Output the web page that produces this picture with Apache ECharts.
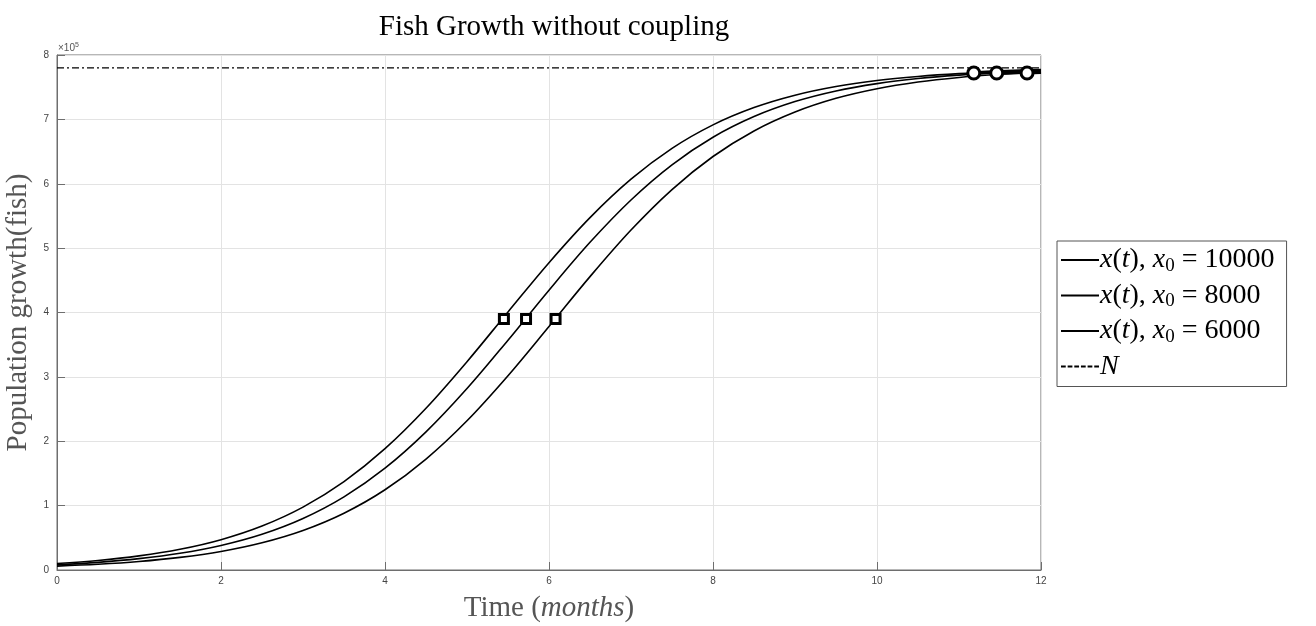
<!DOCTYPE html>
<html>
<head>
<meta charset="utf-8">
<script src="https://cdn.jsdelivr.net/npm/echarts@6/dist/echarts.min.js"></script>
<style>html,body{margin:0;padding:0;background:#fff}#c{width:1316px;height:626px}</style>
</head>
<body>
<div id="c"></div>
<script>
// Time samples (months)
const times = [0,0.5,1,1.5,2,2.5,3,3.5,4,4.5,5,5.5,6,6.5,7,7.5,8,8.5,9,9.5,10,10.5,11,11.5,12];
// x(t), x0 = 10000
const pop10000 = [10000,14800,21900,32200,47100,68300,97700,137300,188500,251300,323600,400900,477400,547400,607100,655000,691500,718400,737600,751100,760400,766700,771100,774000,776000];
// x(t), x0 = 8000
const pop8000 = [8000,11900,17600,25900,38100,55500,80000,113600,158100,214500,281800,357000,434700,509000,574800,629400,672200,704300,727600,744100,755500,763400,768800,772500,774900];
// x(t), x0 = 6000
const pop6000 = [6000,8900,13200,19600,28800,42300,61400,88200,124600,172400,231900,301900,378300,455700,528100,591000,642300,682000,711400,732700,747600,758000,765100,770000,773300];
// carrying capacity N
const capacityN = 780000;
// half-capacity markers (squares)
const halfT = [5.45, 5.72, 6.08];
const halfV = [390000, 390000, 390000];
// near-saturation markers (circles)
const satT = [11.18, 11.46, 11.83];
const satV = [772000, 772000, 772000];
// thick tail segments after the circles
const tailA = [[11.18,772000],[11.5,774000],[12,776000]];
const tailB = [[11.46,772200],[11.5,772500],[12,774900]];
const tailC = [[11.83,772400],[12,773300]];
const yTickStep = 100000;

const pairs = (arr) => times.map((t, i) => [t, arr[i]]);
const serif = '"Liberation Serif", "DejaVu Serif", serif';
const legRich = {
  i: {fontFamily: serif, fontStyle: 'italic', fontSize: 28, color: '#000'},
  n: {fontFamily: serif, fontSize: 28, color: '#000'},
  s: {fontFamily: serif, fontSize: 19, color: '#000', verticalAlign: 'bottom', padding: [12,0,0,0]}
};
const lineStyleBase = {color: '#000', width: 1.6};
const solidIcon = 'path://M0,0H40V2H0Z';
const dashIcon = 'path://M0,0H5V2H0Z M7,0H12V2H7Z M14,0H19V2H14Z M21,0H26V2H21Z M28,0H33V2H28Z M35,0H40V2H35Z';

const chart = echarts.init(document.getElementById('c'), null, {renderer: 'canvas'});
chart.setOption({
  animation: false,
  backgroundColor: '#fff',
  title: {
    text: 'Fish Growth without coupling',
    left: 549, top: 8, textAlign: 'center',
    textStyle: {fontFamily: serif, fontWeight: 'normal', fontSize: 29, color: '#000'}
  },
  grid: {left: 57, right: 275, top: 55, bottom: 56, show: true, borderColor: '#6e6e6e', borderWidth: 1,
    backgroundColor: 'transparent', containLabel: false, outerBoundsMode: 'none'},
  legend: {
    orient: 'vertical',
    left: 1057, top: 241,
    padding: [5, 12, 6, 4],
    itemGap: 6,
    itemWidth: 38,
    itemHeight: 2,
    borderColor: '#555', borderWidth: 1, borderRadius: 0,
    backgroundColor: '#fff',
    data: [
      {name: 'A', icon: solidIcon},
      {name: 'B', icon: solidIcon},
      {name: 'C', icon: solidIcon},
      {name: 'N', icon: dashIcon}
    ],
    itemStyle: {color: '#000', borderWidth: 0},
    formatter: function (name) {
      if (name === 'A') return '{i|x}{n|(}{i|t}{n|), }{i|x}{s|0}{n| = 10000}';
      if (name === 'B') return '{i|x}{n|(}{i|t}{n|), }{i|x}{s|0}{n| = 8000}';
      if (name === 'C') return '{i|x}{n|(}{i|t}{n|), }{i|x}{s|0}{n| = 6000}';
      return '{i|N}';
    },
    textStyle: {rich: legRich, padding: [0,0,0,-4]}
  },
  xAxis: {
    type: 'value', min: 0, max: 12, interval: 2,
    name: '{n|Time (}{i|months}{n|)}',
    nameLocation: 'middle', nameGap: 24,
    nameTextStyle: {rich: {
      n: {fontFamily: serif, fontSize: 29, color: '#555'},
      i: {fontFamily: serif, fontStyle: 'italic', fontSize: 29, color: '#555'}
    }},
    axisLine: {show: true, lineStyle: {color: '#6e6e6e'}},
    axisTick: {show: true, inside: true, length: 8, lineStyle: {color: '#6e6e6e'}},
    axisLabel: {color: '#444', fontSize: 10, fontFamily: 'Liberation Sans, Arial, sans-serif', margin: 6},
    splitLine: {show: true, lineStyle: {color: '#e3e3e3', width: 1}}
  },
  yAxis: {
    type: 'value', min: 0, max: 800000, interval: yTickStep,
    name: 'Population growth(fish)',
    nameLocation: 'middle', nameGap: 21,
    nameTextStyle: {fontFamily: serif, fontSize: 29, color: '#555'},
    axisLine: {show: true, lineStyle: {color: '#6e6e6e'}},
    axisTick: {show: true, inside: true, length: 8, lineStyle: {color: '#6e6e6e'}},
    axisLabel: {color: '#444', fontSize: 10, fontFamily: 'Liberation Sans, Arial, sans-serif', margin: 8,
      formatter: v => String(v / 100000)},
    splitLine: {show: true, lineStyle: {color: '#e3e3e3', width: 1}}
  },
  graphic: [{
    type: 'text', left: 58, top: 42,
    style: {
      text: '×10{s|5}',
      fill: '#555', fontSize: 10, fontFamily: 'Liberation Sans, Arial, sans-serif',
      rich: {s: {fontSize: 7, fill: '#555', verticalAlign: 'top', padding: [0,0,6,0]}}
    }
  }],
  series: [
    {name: 'A', type: 'line', data: pairs(pop10000), symbol: 'none', smooth: 0.35, lineStyle: lineStyleBase, itemStyle: {color: '#000'}, z: 3},
    {name: 'B', type: 'line', data: pairs(pop8000), symbol: 'none', smooth: 0.35, lineStyle: lineStyleBase, itemStyle: {color: '#000'}, z: 3},
    {name: 'C', type: 'line', data: pairs(pop6000), symbol: 'none', smooth: 0.35, lineStyle: lineStyleBase, itemStyle: {color: '#000'}, z: 3},
    {name: 'N', type: 'line', data: [[0, capacityN], [12, capacityN]], symbol: 'none',
      lineStyle: {color: '#000', width: 1.2, type: [7, 3, 2, 3]}, itemStyle: {color: '#000'}, z: 2},
    {name: 'tA', type: 'line', data: tailA, symbol: 'none', smooth: true, lineStyle: {color: '#000', width: 3.5}, z: 4},
    {name: 'tB', type: 'line', data: tailB, symbol: 'none', smooth: true, lineStyle: {color: '#000', width: 3.5}, z: 4},
    {name: 'tC', type: 'line', data: tailC, symbol: 'none', smooth: true, lineStyle: {color: '#000', width: 3.5}, z: 4},
    {name: 'half', type: 'scatter', data: halfT.map((t, i) => [t, halfV[i]]), symbol: 'rect', symbolSize: 9,
      itemStyle: {color: '#fff', borderColor: '#000', borderWidth: 3, opacity: 1}, z: 5},
    {name: 'sat', type: 'scatter', data: satT.map((t, i) => [t, satV[i]]), symbol: 'circle', symbolSize: 12,
      itemStyle: {color: '#fff', borderColor: '#000', borderWidth: 3, opacity: 1}, z: 5}
  ]
});
</script>
</body>
</html>
